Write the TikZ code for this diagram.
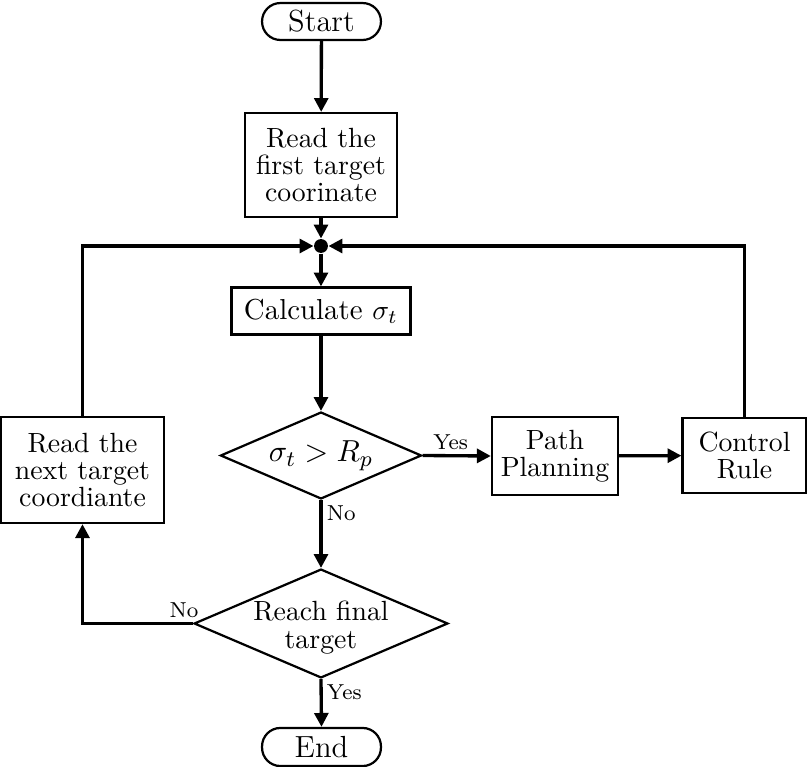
\documentclass[tikz,border=0pt]{standalone}
\usetikzlibrary{arrows.meta,shapes.geometric}
\begin{document}
\begin{tikzpicture}[x=0.36pt,y=-0.36pt,
  box/.style={draw, line width=0.8pt, inner sep=0pt, align=center, font=\fontsize{10}{9.7}\selectfont},
  term/.style={box, rounded corners=6.6pt, font=\fontsize{11}{11}\selectfont},
  dia/.style={draw, diamond, line width=0.8pt, inner sep=0pt},
  diatext/.style={align=center, inner sep=0pt, font=\fontsize{10}{10}\selectfont},
  arr/.style={line width=1.2pt, -{Triangle[length=5pt,width=5pt]}},
  lab/.style={font=\fontsize{7.8}{8}\selectfont, inner sep=1.5pt}]
\useasboundingbox (0,0) rectangle (807,767);

\node[term, minimum width=42.8pt, minimum height=13.3pt] (start) at (321.5,21.5) {Start};
\node[box, minimum width=54.7pt, minimum height=37.4pt] (read1) at (321,165) {Read the\\first target\\coorinate};
\node[circle, fill, inner sep=0pt, minimum size=5pt] (dot) at (321,246) {};
\node[box, minimum width=64.4pt, minimum height=16.9pt, font=\fontsize{10.4}{10}\selectfont] (calc) at (321,311) {Calculate $\sigma_t$};
\node[dia, minimum width=72.4pt, minimum height=31.3pt] (d1) at (321,455.5) {};
\node[diatext, font=\fontsize{11.2}{11}\selectfont] (d1t) at (d1) {$\sigma_t > R_p$};
\node[box, minimum width=45.4pt, minimum height=28.1pt] (path) at (555,456) {Path\\Planning};
\node[box, minimum width=44.6pt, minimum height=27pt] (ctrl) at (744.5,455.5) {Control\\Rule};
\node[box, minimum width=58.7pt, minimum height=38.2pt] (read2) at (82.5,470) {Read the\\next target\\coordiante};
\node[dia, minimum width=91.4pt, minimum height=39.2pt] (d2) at (321,623.5) {};
\node[diatext] (d2t) at ([yshift=-1.6pt]d2.center) {Reach final\\target};
\node[term, minimum width=42.8pt, minimum height=13.7pt] (end) at (321.5,747) {End};

\draw[arr] (start) -- (read1);
\draw[arr] (read1) -- (dot);
\draw[arr] (dot) -- (calc);
\draw[arr] (read2.north) |- (dot);
\draw[arr] (ctrl.north) |- (dot);
\draw[arr] (calc) -- (d1);
\draw[arr] (d1.east) -- node[lab, above, pos=0.41] {Yes} (path.west);
\draw[arr] (path) -- (ctrl);
\draw[arr] (d1.south) -- node[lab, right, pos=0.2] {No} (d2.north);
\draw[arr] (d2.west) -| node[lab, above, pos=0.04] {No} (read2.south);
\draw[arr] (d2.south) -- node[lab, right, pos=0.28] {Yes} (end.north);
\end{tikzpicture}
\end{document}
